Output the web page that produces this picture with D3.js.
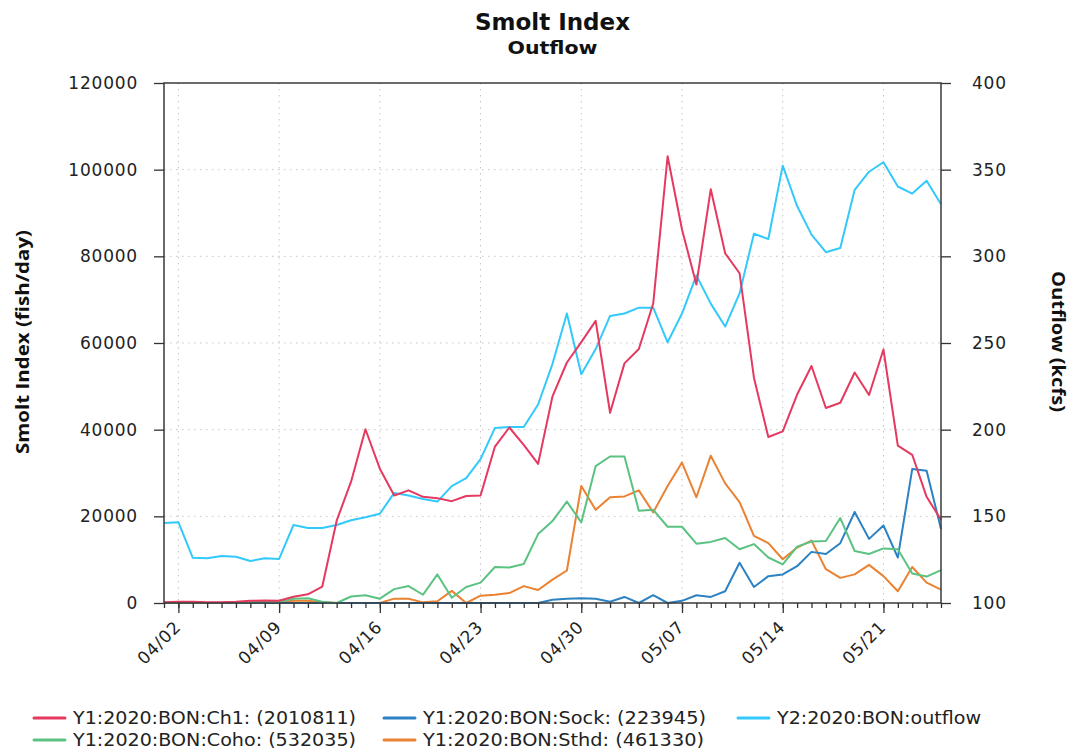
<!DOCTYPE html>
<html><head><meta charset="utf-8">
<script src="https://cdn.jsdelivr.net/npm/d3@7"></script>
<style>
body{margin:0;background:#fff;}
svg{display:block;}
</style></head>
<body><svg id="chart" width="1075" height="755"></svg>
<script>
// ---- data (daily, 2020) ----
const dates = ["04/01","04/02","04/03","04/04","04/05","04/06","04/07","04/08","04/09","04/10",
  "04/11","04/12","04/13","04/14","04/15","04/16","04/17","04/18","04/19","04/20",
  "04/21","04/22","04/23","04/24","04/25","04/26","04/27","04/28","04/29","04/30",
  "05/01","05/02","05/03","05/04","05/05","05/06","05/07","05/08","05/09","05/10",
  "05/11","05/12","05/13","05/14","05/15","05/16","05/17","05/18","05/19","05/20",
  "05/21","05/22","05/23","05/24","05/25"];
const ch1 = [200,300,300,200,200,300,500,600,500,1450,2000,3800,19000,28000,40100,31000,24800,26000,24500,24200,
  23500,24700,24800,36100,40500,36500,32100,47700,55500,60200,65100,43900,55300,58600,69100,103100,86200,73500,95500,80700,
  76100,52000,38300,39600,48100,54700,45000,46200,53200,48000,58500,36300,34200,24500,19200];
const coho = [0,0,0,0,0,100,200,300,200,1000,1100,300,0,1500,1800,1000,3200,3900,1900,6600,
  1200,3700,4700,8300,8200,9000,15900,18900,23400,18600,31600,33800,33800,21300,21500,17600,17600,13700,14100,15000,
  12400,13600,10500,8900,13000,14200,14300,19600,12000,11300,12600,12400,6800,6100,7600];
const sock = [0,0,0,0,0,0,0,0,0,0,0,0,0,0,0,0,0,0,0,0,
  0,0,0,0,0,0,0,750,1000,1100,1000,300,1400,0,1800,0,500,1800,1400,2700,
  9300,3700,6200,6600,8500,11800,11300,13800,21000,14800,17900,10500,30900,30500,17100];
const sthd = [0,0,0,0,0,0,0,0,200,500,500,200,0,0,0,0,1000,1000,150,400,
  2800,0,1700,1900,2300,3900,3000,5400,7500,27000,21500,24400,24600,26000,20900,27000,32400,24400,34000,27600,
  23300,15500,13800,10100,12800,14400,7800,5800,6600,8800,6200,2700,8300,4700,3100];
const outflow = [146.2,146.6,126.1,125.8,127.1,126.7,124.2,125.8,125.4,145.0,143.3,143.3,145.0,147.7,149.5,151.5,163.5,162,160,158.5,
  167.4,172,183,201,201.5,201.5,214.5,238,267,232,246.5,265.6,267,270.4,270.4,250.4,267,289,272.7,259.5,
  278.6,313,310,352.3,329,312.5,302.4,304.8,338.4,348.8,354.3,340.3,336.2,343.6,330];

const leftTicks = [0,20000,40000,60000,80000,100000,120000];
const rightTicks = [100,150,200,250,300,350,400];
const xTickLabels = ["04/02","04/09","04/16","04/23","04/30","05/07","05/14","05/21"];
const legendNames = ["Y1:2020:BON:Ch1: (2010811)","Y1:2020:BON:Coho: (532035)","Y1:2020:BON:Sock: (223945)",
  "Y1:2020:BON:Sthd: (461330)","Y2:2020:BON:outflow"];
const titleText = "Smolt Index";
const subtitleText = "Outflow";
const leftTitle = "Smolt Index (fish/day)";
const rightTitle = "Outflow (kcfs)";

// ---- layout ----
const L = 164, R = 941, T = 83, B = 603;
const parse = d3.timeParse("%Y/%m/%d");
const toDate = s => parse("2020/" + s);
const dateObjs = dates.map(toDate);
const x = d3.scaleTime().domain([dateObjs[0], dateObjs[dateObjs.length - 1]]).range([L, R]);
const yL = d3.scaleLinear().domain([0, 120000]).range([B, T]);
const yR = d3.scaleLinear().domain([100, 400]).range([B, T]);

const svg = d3.select("#chart");
const tickFont = "'DejaVu Sans', sans-serif";
const boldFont = "'Open Sans', 'DejaVu Sans', sans-serif";
const titleFont = "'DejaVu Sans', sans-serif";

// grid
const grid = svg.append("g").attr("stroke", "#c4c4c4").attr("stroke-width", 1).attr("stroke-dasharray", "1.5,4.5");
grid.selectAll("line.h").data(leftTicks.slice(1, -1)).join("line")
  .attr("x1", L).attr("x2", R).attr("y1", d => yL(d)).attr("y2", d => yL(d));
grid.selectAll("line.v").data(xTickLabels.map(toDate)).join("line")
  .attr("x1", d => x(d)).attr("x2", d => x(d)).attr("y1", T).attr("y2", B);

// series lines (secondary behind, Ch1 on top)
const series = [
  {vals: outflow, scale: yR, color: "#33c9fb"},
  {vals: sthd, scale: yL, color: "#ea8232"},
  {vals: sock, scale: yL, color: "#2c82c2"},
  {vals: coho, scale: yL, color: "#5cc282"},
  {vals: ch1, scale: yL, color: "#e5395f"}
];
series.forEach(s => {
  const line = d3.line().x((d, i) => x(dateObjs[i])).y(d => s.scale(d));
  svg.append("path").attr("d", line(s.vals)).attr("fill", "none")
    .attr("stroke", s.color).attr("stroke-width", 2).attr("stroke-linejoin", "round");
});

// frame
svg.append("rect").attr("x", L).attr("y", T).attr("width", R - L).attr("height", B - T)
  .attr("fill", "none").attr("stroke", "#3a3a3a").attr("stroke-width", 1.5);

function styleAxis(g) {
  g.select(".domain").remove();
  g.selectAll(".tick line").attr("stroke", "#333").attr("stroke-width", 1.3);
  g.selectAll("text").attr("font-family", tickFont).attr("font-size", 17)
    .attr("fill", "#222").attr("letter-spacing", "0.8px");
}

const axL = svg.append("g").attr("transform", `translate(${L},0)`)
  .call(d3.axisLeft(yL).tickValues(leftTicks).tickSize(10).tickPadding(16).tickFormat(d3.format("d")));
styleAxis(axL);
const axR = svg.append("g").attr("transform", `translate(${R},0)`)
  .call(d3.axisRight(yR).tickValues(rightTicks).tickSize(10).tickPadding(21).tickFormat(d3.format("d")));
styleAxis(axR);

const axMinor = svg.append("g").attr("transform", `translate(0,${B})`)
  .call(d3.axisBottom(x).tickValues(dateObjs).tickSize(5).tickFormat(""));
styleAxis(axMinor);
const axB = svg.append("g").attr("transform", `translate(0,${B})`)
  .call(d3.axisBottom(x).tickValues(xTickLabels.map(toDate)).tickSize(10).tickFormat(d3.timeFormat("%m/%d")));
styleAxis(axB);
axB.selectAll("text").attr("x", 0).attr("y", 0).attr("dy", 0)
  .attr("text-anchor", "end").attr("transform", "translate(3,25) rotate(-45)");

// titles
svg.append("text").attr("x", 552.5).attr("y", 29.5).attr("text-anchor", "middle")
  .attr("font-family", titleFont).attr("font-weight", "bold").attr("font-size", 23).attr("fill", "#111")
  .attr("textLength", 155).attr("lengthAdjust", "spacingAndGlyphs").text(titleText);
svg.append("text").attr("x", 552.5).attr("y", 53.5).attr("text-anchor", "middle")
  .attr("font-family", titleFont).attr("font-weight", "bold").attr("font-size", 18.5).attr("fill", "#111")
  .attr("textLength", 90).attr("lengthAdjust", "spacingAndGlyphs").text(subtitleText);

svg.append("text").attr("transform", "translate(28.5,342) rotate(-90)").attr("text-anchor", "middle")
  .attr("font-family", boldFont).attr("font-weight", "bold").attr("font-size", 18).attr("fill", "#111")
  .attr("textLength", 224).attr("lengthAdjust", "spacingAndGlyphs").text(leftTitle);
svg.append("text").attr("transform", "translate(1051.5,341.5) rotate(90)").attr("text-anchor", "middle")
  .attr("font-family", boldFont).attr("font-weight", "bold").attr("font-size", 18).attr("fill", "#111")
  .attr("textLength", 141).attr("lengthAdjust", "spacingAndGlyphs").text(rightTitle);

// legend
const legendItems = [
  {name: legendNames[0], color: "#e5395f", lx: 34, tx: 73, cy: 718, w: 283},
  {name: legendNames[1], color: "#5cc282", lx: 34, tx: 73, cy: 740, w: 283},
  {name: legendNames[2], color: "#2c82c2", lx: 384, tx: 423, cy: 718, w: 283},
  {name: legendNames[3], color: "#ea8232", lx: 384, tx: 423, cy: 740, w: 281},
  {name: legendNames[4], color: "#33c9fb", lx: 738, tx: 777, cy: 718, w: 204}
];
const lg = svg.append("g");
legendItems.forEach(it => {
  lg.append("line").attr("x1", it.lx).attr("x2", it.lx + 31).attr("y1", it.cy).attr("y2", it.cy)
    .attr("stroke", it.color).attr("stroke-width", 3).attr("stroke-linecap", "round");
  lg.append("text").attr("x", it.tx).attr("y", it.cy + 6).attr("font-family", tickFont)
    .attr("font-size", 17).attr("fill", "#222")
    .attr("textLength", it.w).attr("lengthAdjust", "spacingAndGlyphs").text(it.name);
});
</script>
</body></html>
